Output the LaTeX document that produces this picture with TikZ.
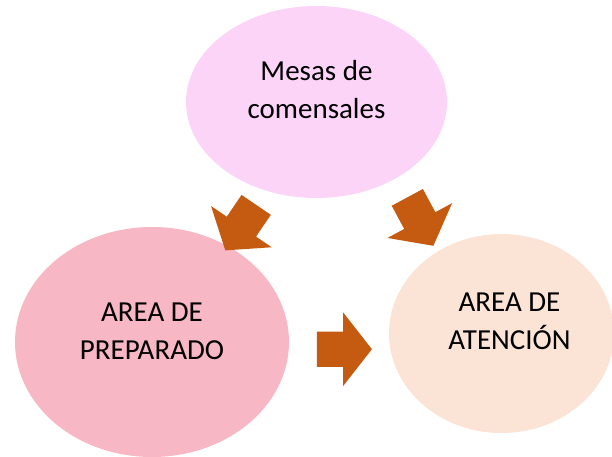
\documentclass[tikz,border=0pt]{standalone}
\usepackage{fontspec}
\setmainfont{Carlito}
\usetikzlibrary{shapes.geometric,shapes.arrows,positioning}
\definecolor{Ctop}{RGB}{251,212,248}
\definecolor{Cleft}{RGB}{247,183,196}
\definecolor{Cright}{RGB}{251,228,214}
\definecolor{Carrow}{RGB}{197,90,17}
\tikzset{
    zona/.style={
        ellipse, draw=none, inner sep=0pt
    },
    ztext/.style={
        align=center, text=black, inner sep=0pt,
        font=\fontsize{29}{38.5}\selectfont
    },
    flecha/.style={
        single arrow, draw=none, fill=Carrow,
        inner xsep=0pt, inner ysep=17.5pt,
        minimum height=55pt,
        single arrow head extend=19pt, single arrow head indent=0pt,
        single arrow tip angle=104, anchor=tail
    },
}
\begin{document}
\begin{tikzpicture}[x=1pt, y=-1pt]
    \useasboundingbox (0,0) rectangle (612,456);
    \clip (0,0) rectangle (612,456);

    % ── zonas ─────────────────────────────────────────────
    \node [zona, fill=Ctop, minimum width=261pt, minimum height=192pt]
        (mesas) at (316.5,102) {};
    \node [zona, fill=Cleft, minimum width=274pt, minimum height=230pt]
        (prep) at (152,342) {};
    \node [zona, fill=Cright, minimum width=225pt, minimum height=199pt]
        (aten) at (501.5,333.5) {};

    % ── textos ────────────────────────────────────────────
    \node [ztext] (mesasT) at ([yshift=12.5pt]mesas.center) {Mesas de\\comensales};
    \node [ztext] (prepT) at ([yshift=10.5pt]prep.center) {AREA DE\\PREPARADO};
    \node [ztext] (atenT) at ([xshift=8pt, yshift=12pt]aten.center) {AREA DE\\ATENCIÓN};

    % ── flechas ───────────────────────────────────────────
    \node [flecha, rotate=235.8] (fA) at (256.3,204.7) {};
    \node [flecha, rotate=-61.7] (fB) at (407.2,197.2) {};
    \node [flecha] (fC) at (316.7,349.2) {};

\end{tikzpicture}
\end{document}
